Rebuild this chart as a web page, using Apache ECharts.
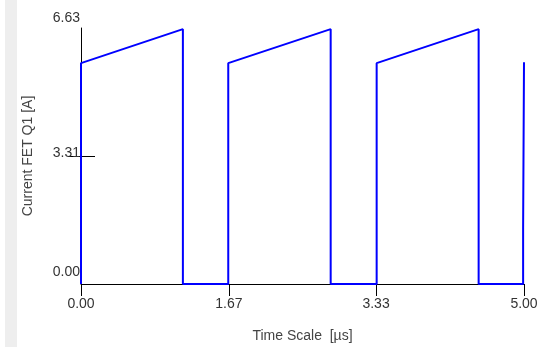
<!DOCTYPE html>
<html><head><meta charset="utf-8">
<script src="https://cdn.jsdelivr.net/npm/echarts@6/dist/echarts.min.js"></script>
<style>html,body{margin:0;padding:0;background:#fff}#c{width:539px;height:347px}</style>
</head><body><div id="c"></div>
<script>
// Time points (µs) and current values (A) of the FET Q1 waveform
const timeUs = [0, 0, 1.15, 1.15, 1.662, 1.662, 2.818, 2.818, 3.337, 3.337, 4.488, 4.488, 4.99, 4.99, 5.0, 5.0];
const currentA = [0, 5.72, 6.6, 0, 0, 5.72, 6.6, 0, 0, 5.72, 6.6, 0, 0, 1.45, 1.45, 5.74];
const xTicks = [0, 1.67, 3.33, 5.0];
const yTicks = [0, 3.31, 6.63];
const xName = 'Time Scale  [µs]';
const yName = 'Current FET Q1 [A]';

const data = timeUs.map((t, i) => [t, currentA[i]]);
const chart = echarts.init(document.getElementById('c'), null, {renderer: 'canvas'});
const font = 'Liberation Sans, Arial, sans-serif';
const yPad = {0: [0,0,24,0], 3.31: [0,0,6,0], 6.63: [0,0,20,0]};
const rich = {};
yTicks.forEach((v, i) => { rich['r' + i] = {padding: yPad[v], fontSize: 14, fontFamily: font, color: '#333'}; });

chart.setOption({
  backgroundColor: '#fff',
  animation: false,
  graphic: [{type: 'rect', shape: {x: 5, y: 0, width: 12, height: 347}, style: {fill: '#eeeeee'}, z: -10}],
  grid: {left: 81, right: 15, top: 28, bottom: 63, containLabel: false, outerBoundsMode: 'none'},
  xAxis: {
    type: 'value', min: 0, max: 5,
    name: xName, nameLocation: 'middle', nameGap: 45,
    nameTextStyle: {fontSize: 14, fontFamily: font, color: '#444'},
    axisLine: {onZero: false, lineStyle: {color: '#000', width: 1}},
    axisTick: {show: true, customValues: xTicks, length: 12, lineStyle: {color: '#000'}},
    axisLabel: {customValues: xTicks, formatter: v => v.toFixed(2), margin: 13, fontSize: 14, fontFamily: font, color: '#333', showMinLabel: true, showMaxLabel: true},
    splitLine: {show: false}
  },
  yAxis: [{
    type: 'value', min: 0, max: 6.63,
    name: yName, nameLocation: 'middle', nameGap: 46,
    nameTextStyle: {fontSize: 14, fontFamily: font, color: '#444'},
    axisLine: {onZero: false, lineStyle: {color: '#000', width: 1}},
    axisTick: {show: true, customValues: [yTicks[1]], length: 13, lineStyle: {color: '#000'}},
    axisLabel: {customValues: yTicks, margin: 1,
      formatter: v => { const i = yTicks.findIndex(t => Math.abs(t - v) < 1e-6); return '{r' + i + '|' + v.toFixed(2) + '}'; },
      rich: rich},
    splitLine: {show: false}
  }, {
    type: 'value', min: 0, max: 6.63, position: 'left', offset: 0,
    axisLine: {show: false},
    axisTick: {show: true, inside: true, customValues: [yTicks[1]], length: 14, lineStyle: {color: '#000'}},
    axisLabel: {show: false},
    splitLine: {show: false}
  }],
  series: [{
    type: 'line', data: data, showSymbol: false, symbol: 'none',
    lineStyle: {color: '#0000ff', width: 2}, clip: false, z: 3
  }]
});
</script></body></html>
